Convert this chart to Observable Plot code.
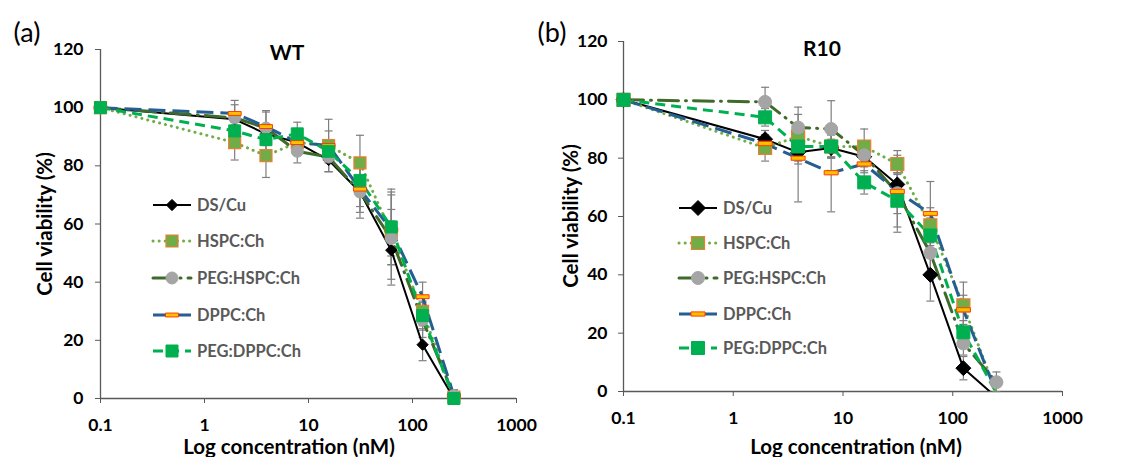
<!DOCTYPE html>
<html><head><meta charset="utf-8">
<script src="https://cdn.jsdelivr.net/npm/d3@7"></script>
<script src="https://cdn.jsdelivr.net/npm/@observablehq/plot@0.6"></script>
<style>
body{margin:0;background:#fff;font-family:Lato,"Open Sans",sans-serif;}
#wrap{position:relative;width:1128px;height:457px;overflow:hidden;background:#fff;}
.panel{position:absolute;top:0;}
.lbl{position:absolute;white-space:nowrap;color:#000;line-height:1;}
.legend-row{position:absolute;display:flex;align-items:center;white-space:nowrap;transform:translateY(-50%);font-size:16.5px;font-weight:bold;color:#595959;}
.legend-row svg{margin-right:5px;overflow:visible;}
</style></head><body><div id="wrap"></div>
<script>
// ---------- data ----------
const concentrations = [0.1, 1.95, 3.9, 7.8, 15.6, 31.25, 62.5, 125, 250];
const seriesNames = ["DS/Cu", "HSPC:Ch", "PEG:HSPC:Ch", "DPPC:Ch", "PEG:DPPC:Ch"];
const xTicks = [0.1, 1, 10, 100, 1000];
const yTicks = [0, 20, 40, 60, 80, 100, 120];
const panelTitles = ["WT", "R10"];
const panelTags = ["(a)", "(b)"];
const yLabel = "Cell viability (%)";
const xLabel = "Log concentration (nM)";

// WT (a)
const wtDSCu      = [100, 96, 91, 88, 82, 71, 51, 18.5, 0];
const wtDSCuSD    = [0, 2, 3, 3, 4, 5, 10, 5.5, 1];
const wtHSPC      = [100, 88, 83.5, 88, 87, 81, 57, 30, 0.5];
const wtHSPCSD    = [0, 6, 7.5, 4, 9, 9.5, 8, 5, 1];
const wtPEGHSPC   = [100, 96.5, 93, 85, 83, 71, 55, 27, 1];
const wtPEGHSPCSD = [0, 6, 6, 4, 5, 9, 16, 6, 2];
const wtDPPC      = [100, 98, 93.5, 88, 87, 72, 58, 35, 1];
const wtDPPCSD    = [0, 3, 5, 4, 5, 8, 12, 5, 2];
const wtPEGDPPC   = [100, 92, 89, 91, 85, 75, 59, 28.5, 0];
const wtPEGDPPCSD = [0, 3, 4, 4, 4, 5, 13, 5, 1];

// R10 (b)
const r10DSCu      = [100, 86.5, 82, 83.5, 80.5, 71, 40, 8, -2];
const r10DSCuSD    = [0, 3, 4, 3, 3, 4, 9, 4, 0];
const r10HSPC      = [100, 83.5, 87.5, 84, 84, 78, 57, 29.5, -0.5];
const r10HSPCSD    = [0, 4.5, 4, 4, 6, 3, 6, 8, 0];
const r10PEGHSPC   = [100, 99.3, 90.5, 90, 81, 68, 47.5, 16.5, 3.2];
const r10PEGHSPCSD = [0, 5, 7, 9.7, 4, 7, 8, 4, 3.5];
const r10DPPC      = [100, 85, 80, 75, 78, 68.6, 61, 28, -0.5];
const r10DPPCSD    = [0, 3, 15, 13.4, 3, 14, 11, 5, 0];
const r10PEGDPPC   = [100, 94, 84, 84, 71.7, 65.4, 53.5, 20.3, -0.5];
const r10PEGDPPCSD = [0, 3, 5, 4, 4, 9, 6, 4, 0];

// ---------- symbols & styles ----------
const diamondSym = {draw(c, s){const r = Math.sqrt(s/Math.PI)*1.25; c.moveTo(0,-r); c.lineTo(r,0); c.lineTo(0,r); c.lineTo(-r,0); c.closePath();}};
const squareSym  = {draw(c, s){const r = Math.sqrt(s/Math.PI); c.rect(-r,-r,2*r,2*r);}};
const circleSym  = {draw(c, s){const r = Math.sqrt(s/Math.PI); c.moveTo(r,0); c.arc(0,0,r,0,2*Math.PI);}};
const dashSym    = {draw(c, s){const r = Math.sqrt(s/Math.PI); c.rect(-r,-r*0.3,2*r,r*0.6);}};
const capSym     = {draw(c, s){const r = Math.sqrt(s/Math.PI); c.moveTo(-r,0); c.lineTo(r,0);}};

const styles = {
  "DS/Cu":       {stroke:"#000000", width:2,   dash:null,       cap:"butt",  symbol:diamondSym, fill:"#000000", mstroke:"#000000", mwidth:1, r:[4.5, 6]},
  "HSPC:Ch":     {stroke:"#70AD47", width:3,   dash:"0.1 6",    cap:"round", symbol:squareSym,  fill:"#70AD47", mstroke:"#ED7D31", mwidth:1.2, r:[6, 6.5]},
  "PEG:HSPC:Ch": {stroke:"#3F6A2A", width:3,   dash:"20 7 1 7", cap:"round", symbol:circleSym,  fill:"#A5A5A5", mstroke:"#A5A5A5", mwidth:1, r:[6, 6.5]},
  "DPPC:Ch":     {stroke:"#255E91", width:3,   dash:"17 7",     cap:"butt",  symbol:dashSym,    fill:"#FFC000", mstroke:"#FF3B00", mwidth:1, r:[6.5, 7]},
  "PEG:DPPC:Ch": {stroke:"#00B050", width:3,   dash:"10 6",     cap:"butt",  symbol:squareSym,  fill:"#00B050", mstroke:"#00B050", mwidth:1, r:[6, 6.5]}
};
const axisColor = "#595959";
const errColor = "#7F7F7F";

const panels = [
  {values:[wtDSCu, wtHSPC, wtPEGHSPC, wtDPPC, wtPEGDPPC], sds:[wtDSCuSD, wtHSPCSD, wtPEGHSPCSD, wtDPPCSD, wtPEGDPPCSD],
   left:0, width:560, margin:{l:100, r:44, t:49, b:59}, tickPad:12},
  {values:[r10DSCu, r10HSPC, r10PEGHSPC, r10DPPC, r10PEGDPPC], sds:[r10DSCuSD, r10HSPCSD, r10PEGHSPCSD, r10DPPCSD, r10PEGDPPCSD],
   left:560, width:568, margin:{l:63, r:66, t:41, b:66}, tickPad:11}
];

const wrap = document.getElementById("wrap");

panels.forEach((p, pi) => {
  const rows = [];
  seriesNames.forEach((name, si) => {
    concentrations.forEach((x, j) => rows.push({series:name, x, y:p.values[si][j], sd:p.sds[si][j]}));
  });
  const marks = [
    Plot.ruleY([0], {stroke:axisColor, strokeWidth:1.3}),
    Plot.ruleX([0.1], {stroke:axisColor, strokeWidth:1.3}),
    Plot.axisX({ticks:xTicks, tickFormat:d => String(d), tickSize:5, tickPadding:15, fontSize:17.5, fontWeight:"bold", stroke:axisColor, fill:"#000", label:null}),
    Plot.axisY({ticks:yTicks, tickSize:5, tickPadding:p.tickPad, fontSize:17.5, fontWeight:"bold", stroke:axisColor, fill:"#000", label:null})
  ];
  const eb = rows.filter(r => r.sd > 0);
  marks.push(Plot.ruleX(eb, {x:"x", y1:r => r.y - r.sd, y2:r => r.y + r.sd, stroke:errColor, strokeWidth:1.2}));
  marks.push(Plot.dot(eb, {x:"x", y:r => r.y + r.sd, symbol:capSym, r:4, stroke:errColor, strokeWidth:1.2, fill:"none"}));
  marks.push(Plot.dot(eb, {x:"x", y:r => Math.max(0, r.y - r.sd), symbol:capSym, r:4, stroke:errColor, strokeWidth:1.2, fill:"none"}));
  seriesNames.forEach(name => {
    const s = styles[name];
    const sr = rows.filter(r => r.series === name);
    marks.push(Plot.line(sr, {x:"x", y:"y", stroke:s.stroke, strokeWidth:s.width, strokeDasharray:s.dash || undefined, strokeLinecap:s.cap, clip:true}));
  });
  seriesNames.forEach(name => {
    const s = styles[name];
    const sr = rows.filter(r => r.series === name && r.y >= 0);
    marks.push(Plot.dot(sr, {x:"x", y:"y", symbol:s.symbol, r:s.r[pi], fill:s.fill, stroke:s.mstroke, strokeWidth:s.mwidth}));
  });
  const chart = Plot.plot({
    width:p.width, height:457,
    marginLeft:p.margin.l, marginRight:p.margin.r, marginTop:p.margin.t, marginBottom:p.margin.b,
    x:{type:"log", domain:[0.1, 1000]},
    y:{domain:[0, 120]},
    style:{fontFamily:"Lato, 'Open Sans', sans-serif", background:"transparent", overflow:"visible"},
    marks
  });
  chart.classList.add("panel");
  chart.style.left = p.left + "px";
  wrap.appendChild(chart);
});

// ---------- text & legends ----------
function label(text, cx, cy, css, rotate){
  const d = document.createElement("div");
  d.className = "lbl";
  d.textContent = text;
  d.style.left = cx + "px"; d.style.top = cy + "px";
  d.style.transform = "translate(-50%,-50%)" + (rotate ? " rotate(-90deg)" : "");
  Object.assign(d.style, css);
  wrap.appendChild(d);
}
label(panelTags[0], 27, 31, {fontSize:"27px"});
label(panelTags[1], 552, 31, {fontSize:"27px"});
label(panelTitles[0], 287, 51, {fontSize:"21px", fontWeight:"bold"});
label(panelTitles[1], 822, 47, {fontSize:"21px", fontWeight:"bold"});
label(yLabel, 44, 224, {fontSize:"20.5px", fontWeight:"bold"}, true);
label(yLabel, 570, 216, {fontSize:"20.5px", fontWeight:"bold"}, true);
label(xLabel, 289, 446, {fontSize:"20.5px", fontWeight:"bold"});
label(xLabel, 856, 446, {fontSize:"20.5px", fontWeight:"bold"});

const legendPos = [
  {x:152, ys:[205, 241, 278, 315, 351], big:false},
  {x:678, ys:[208, 243, 278, 314, 348], big:true}
];
const NS = "http://www.w3.org/2000/svg";
legendPos.forEach(L => {
  seriesNames.forEach((name, i) => {
    const s = styles[name];
    const row = document.createElement("div");
    row.className = "legend-row";
    row.style.left = L.x + "px"; row.style.top = L.ys[i] + "px";
    const svg = document.createElementNS(NS, "svg");
    svg.setAttribute("width", 40); svg.setAttribute("height", 16);
    const ln = document.createElementNS(NS, "line");
    ln.setAttribute("x1", 1); ln.setAttribute("x2", 39); ln.setAttribute("y1", 8); ln.setAttribute("y2", 8);
    ln.setAttribute("stroke", s.stroke); ln.setAttribute("stroke-width", s.width);
    if (s.dash) ln.setAttribute("stroke-dasharray", s.dash);
    ln.setAttribute("stroke-linecap", s.cap);
    svg.appendChild(ln);
    const path = d3.path();
    const rr = s.r[L.big ? 1 : 0];
    s.symbol.draw(path, rr * rr * Math.PI);
    const mk = document.createElementNS(NS, "path");
    mk.setAttribute("d", path.toString());
    mk.setAttribute("transform", "translate(20,8)");
    mk.setAttribute("fill", s.fill); mk.setAttribute("stroke", s.mstroke); mk.setAttribute("stroke-width", s.mwidth);
    svg.appendChild(mk);
    row.appendChild(svg);
    const t = document.createElement("span");
    t.textContent = name;
    row.appendChild(t);
    wrap.appendChild(row);
  });
});
</script></body></html>
